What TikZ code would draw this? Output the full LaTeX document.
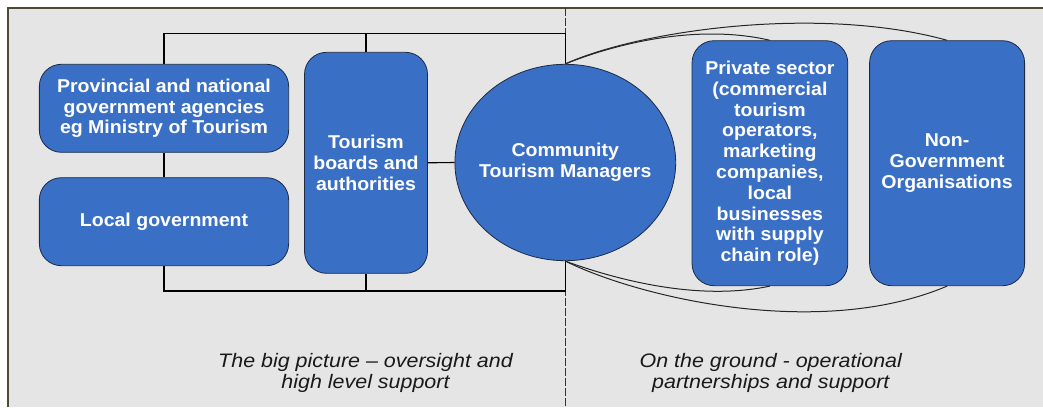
\documentclass[tikz,border=0pt]{standalone}
\usepackage{fontspec}
\setmainfont{Liberation Sans}
\newfontfamily\boxfont{Liberation Sans}[FakeStretch=1.05]
\newfontfamily\capfont{Liberation Sans}[FakeStretch=1.1]
\usetikzlibrary{shapes.geometric,backgrounds}
\definecolor{boxblue}{HTML}{3A6FC6}
\definecolor{boxedge}{HTML}{1C2B46}
\definecolor{panel}{HTML}{E5E5E5}
\definecolor{frameedge}{HTML}{4E4A33}
\begin{document}
\begin{tikzpicture}[x=1pt,y=-1pt,
  blk/.style={draw=boxedge, line width=0.8pt, fill=boxblue, rounded corners=22pt,
    inner sep=0pt, text=white, align=center,
    font=\boxfont\bfseries\fontsize{18.6}{20.8}\selectfont},
  ell/.style={draw=boxedge, line width=0.8pt, fill=boxblue, ellipse,
    inner sep=0pt, text=white, align=center,
    font=\boxfont\bfseries\fontsize{18.6}{20.8}\selectfont},
  conn/.style={draw=black, line width=1.1pt},
  arc/.style={draw=black!85, line width=1pt},
  divider/.style={draw=black!80, line width=1pt, dash pattern=on 8pt off 2pt},
  caption/.style={inner sep=0pt, align=center, text=black!90,
    font=\capfont\itshape\fontsize{19.5}{21}\selectfont}]
\useasboundingbox (0,0) rectangle (1043,407);

% nodes
\node[blk, minimum width=249.3pt, minimum height=88pt] (prov) at (164,108.3)
  {Provincial and national\\government agencies\\eg Ministry of Tourism};
\node[blk, minimum width=249.3pt, minimum height=88pt] (local) at (164,221.7)
  {Local government};
\node[blk, minimum width=123pt, minimum height=221pt] (boards) at (366,162.8)
  {Tourism\\boards and\\authorities};
\node[ell, minimum width=220.8pt, minimum height=196.4pt] (ctm) at (565.3,162.5)
  {\makebox[0pt]{Community}\\\makebox[0pt]{Tourism Managers}};
\node[blk, minimum width=155.7pt, minimum height=245pt] (priv) at (769.9,163.2)
  {Private sector\\(commercial\\tourism\\operators,\\marketing\\companies,\\local\\businesses\\with supply\\chain role)};
\node[blk, minimum width=155pt, minimum height=245pt] (ngo) at (947.1,163.2)
  {Non-\\Government\\Organisations};

\node[caption] (left) at (365.5,373) {The big picture – oversight and\\high level support};
\node[caption] (right) at (770.8,373) {On the ground - operational\\partnerships and support};

\coordinate (tr) at (565.8,33.3);
\coordinate (br) at (565.8,291);
\coordinate (dtop) at (565.8,8);
\coordinate (dbot) at (565.8,407);

\begin{scope}[on background layer]
  \fill[white] (0,0) rectangle (1043,407);
  \fill[panel] (7,7) rectangle (1043,407);
  \draw[frameedge, line width=2pt] (8,407) -- (8,8) -- (1043,8);
  \draw[divider] (dtop) -- (dbot);
  \draw[conn] (prov.north) |- (tr) -- (br) -| (local.south);
  \draw[conn] (prov.south) -- (local.north);
  \draw[conn] (boards.north) -- (boards.north |- tr);
  \draw[conn] (boards.south) -- (boards.south |- br);
  \draw[conn] (boards.east) -- (ctm.west);
  \draw[arc] (ctm.north) .. controls (620,42) and (700,24) .. (priv.north);
  \draw[arc] (ctm.north) .. controls (640,30) and (820,5) .. (ngo.north);
  \draw[arc] (ctm.south) .. controls (620,281) and (700,301) .. (priv.south);
  \draw[arc] (ctm.south) .. controls (640,298) and (820,340) .. (ngo.south);
\end{scope}
\end{tikzpicture}
\end{document}
